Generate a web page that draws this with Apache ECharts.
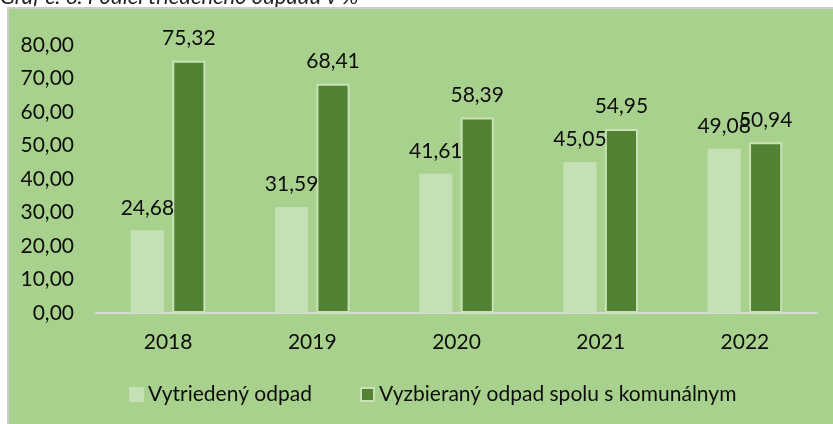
<!DOCTYPE html>
<html>
<head>
<meta charset="utf-8">
<script src="https://cdn.jsdelivr.net/npm/echarts@6/dist/echarts.min.js"></script>
<style>
  html, body { margin: 0; padding: 0; background: #fff; }
  #main { width: 833px; height: 424px; }
</style>
</head>
<body>
<div id="main"></div>
<script>
var years = ['2018', '2019', '2020', '2021', '2022'];
var sorted = [24.68, 31.59, 41.61, 45.05, 49.08];
var collected = [75.32, 68.41, 58.39, 54.95, 50.94];
var seriesNames = ['Vytriedený odpad', 'Vyzbieraný odpad spolu s komunálnym'];
var yTicks = { min: 0, max: 80, step: 10 };

function fmt(v) {
    return Number(v).toFixed(2).replace('.', ',');
}

var font = 'Lato, "Open Sans", sans-serif';
var chart = echarts.init(document.getElementById('main'));

var option = {
    backgroundColor: '#ffffff',
    animation: false,
    textStyle: { fontFamily: font },
    graphic: [
        {
            type: 'text', z: -20, left: 0, top: -14,
            style: {
                text: 'Graf č. 6: Podiel triedeného odpadu v %',
                font: 'italic 22px ' + font,
                fill: '#222'
            }
        },
        {
            type: 'rect', z: -10,
            shape: { x: 8, y: 8, width: 830, height: 420 },
            style: { fill: '#a9d18e', stroke: '#cdd1c4', lineWidth: 2 }
        }
    ],
    grid: { left: 96, right: 16, top: 45, bottom: 111 },
    legend: {
        left: 129, top: 384, padding: 0,
        itemWidth: 13, itemHeight: 13, itemGap: 48,
        icon: 'rect',
        textStyle: { fontSize: 21, color: '#0d0d0d', fontFamily: font },
        data: seriesNames
    },
    xAxis: {
        type: 'category',
        data: years,
        axisLine: { lineStyle: { color: '#d9d9d9', width: 2 } },
        axisTick: { show: false },
        axisLabel: { fontSize: 21, color: '#0d0d0d', margin: 19, fontFamily: font }
    },
    yAxis: {
        type: 'value',
        min: yTicks.min, max: yTicks.max, interval: yTicks.step,
        splitLine: { show: false },
        axisLine: { show: false },
        axisTick: { show: false },
        axisLabel: { fontSize: 21, color: '#0d0d0d', margin: 22, fontFamily: font, formatter: fmt }
    },
    series: [
        {
            name: seriesNames[0],
            type: 'bar',
            data: sorted,
            barWidth: '23%',
            barGap: '25%',
            itemStyle: { color: '#c5e0b4', borderColor: '#c5e0b4', borderWidth: 1 },
            label: {
                show: true, position: 'top', distance: 12,
                fontSize: 21, color: '#0d0d0d', fontFamily: font,
                formatter: function (p) { return fmt(p.value); }
            }
        },
        {
            name: seriesNames[1],
            type: 'bar',
            data: collected,
            barWidth: '23%',
            itemStyle: { color: '#548235', borderColor: '#c8e2b6', borderWidth: 2 },
            label: {
                show: true, position: 'top', distance: 12,
                fontSize: 21, color: '#0d0d0d', fontFamily: font,
                formatter: function (p) { return fmt(p.value); }
            }
        }
    ]
};

chart.setOption(option);
</script>
</body>
</html>
